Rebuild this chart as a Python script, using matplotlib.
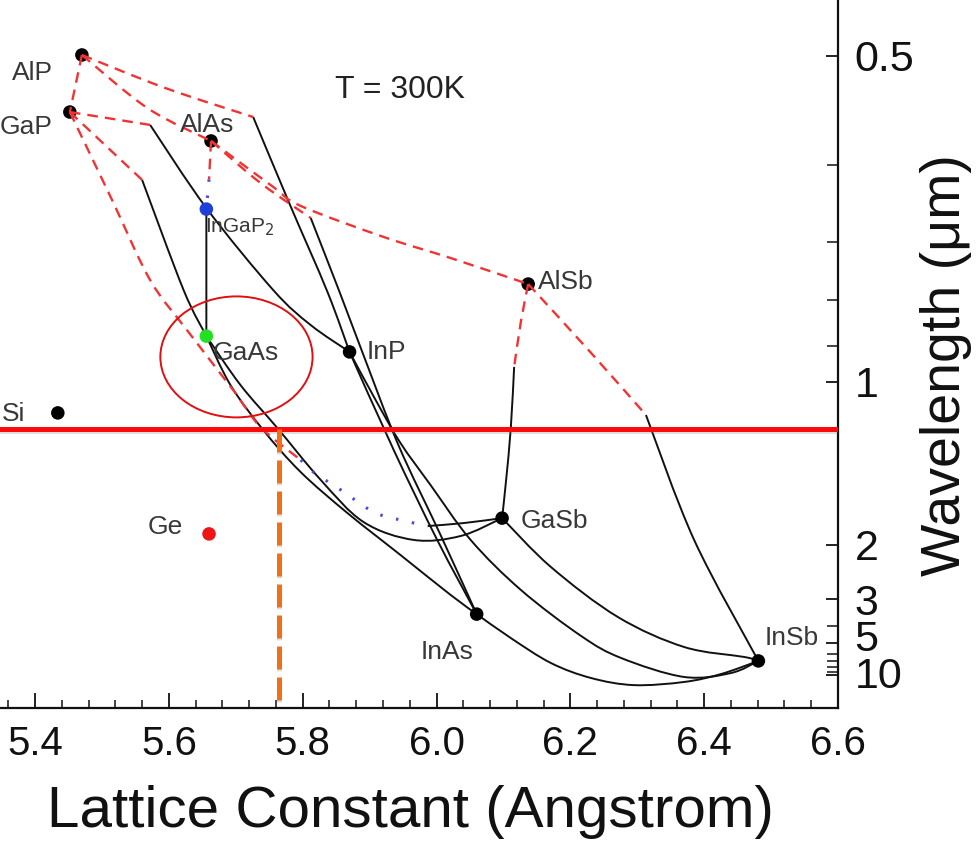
import matplotlib
matplotlib.use('Agg')
import matplotlib.pyplot as plt
from matplotlib.patches import Ellipse, PathPatch
from matplotlib.path import Path
from matplotlib.ticker import MultipleLocator, FixedLocator, FixedFormatter, NullFormatter
import matplotlib.patheffects as pe
import matplotlib.transforms as mtransforms

plt.rcParams['font.family'] = ['Liberation Sans', 'DejaVu Sans']

# ---------------- data (lattice constant in Angstrom, band gap in eV) ----------------
compounds = ['AlP', 'GaP', 'AlAs', 'InGaP2', 'GaAs', 'InP', 'AlSb', 'Si', 'Ge', 'GaSb', 'InAs', 'InSb']
lattice = [5.470, 5.452, 5.663, 5.656, 5.656, 5.870, 6.137, 5.434, 5.660, 6.098, 6.060, 6.481]
gap = [2.483, 2.266, 2.156, 1.897, 1.414, 1.354, 1.612, 1.122, 0.662, 0.722, 0.357, 0.179]
point_colors = ['black', 'black', 'black', '#1f3fd8', '#22e022', 'black', 'black',
                'black', '#ee1515', 'black', 'black', 'black']

# indirect-gap segments (red dashed)
ind_alp_gap_a = [5.470, 5.452]
ind_alp_gap_e = [2.483, 2.266]
ind_alp_alas_a = [5.470, 5.568, 5.663]
ind_alp_alas_e = [2.483, 2.281, 2.156]
ind_alp_inp_a = [5.470, 5.595, 5.726]
ind_alp_inp_e = [2.483, 2.357, 2.247]
ind_gap_inp_a = [5.452, 5.572]
ind_gap_inp_e = [2.266, 2.217]
ind_gap_gaas_a = [5.452, 5.560]
ind_gap_gaas_e = [2.266, 2.008]
ind_gap_gasb_a = [5.452, 5.515, 5.572, 5.627, 5.696, 5.737, 5.797]
ind_gap_gasb_e = [2.266, 1.932, 1.627, 1.437, 1.209, 1.068, 0.943]
ind_alas_alsb_a = [5.663, 5.756, 5.797, 5.921, 6.021, 6.137]
ind_alas_alsb_e = [2.156, 1.981, 1.909, 1.791, 1.711, 1.612]
ind_alas_inas_a = [5.663, 5.737, 5.812]
ind_alas_inas_e = [2.156, 1.996, 1.863]
ind_alas_gaas_a = [5.663, 5.660]
ind_alas_gaas_e = [2.156, 2.010]
ind_alsb_gasb_a = [6.137, 6.126, 6.116]
ind_alsb_gasb_e = [1.612, 1.468, 1.297]
ind_alsb_insb_a = [6.137, 6.231, 6.313]
ind_alsb_insb_e = [1.612, 1.350, 1.114]

# blue dotted segments
dot_gap_gasb_a = [5.797, 5.816, 5.857, 5.906, 5.946, 5.987]
dot_gap_gasb_e = [0.943, 0.897, 0.829, 0.745, 0.715, 0.692]
dot_alas_gaas_a = [5.660, 5.656]
dot_alas_gaas_e = [2.010, 1.897]

# direct-gap segments (black solid)
dir_gap_gasb_a = [5.987, 6.040, 6.098]
dir_gap_gasb_e = [0.692, 0.703, 0.722]
dir_ingap_gaas_a = [5.656, 5.656]
dir_ingap_gaas_e = [1.897, 1.414]
dir_alsb_gasb_a = [6.116, 6.111, 6.104, 6.098]
dir_alsb_gasb_e = [1.297, 1.065, 0.867, 0.722]
dir_alsb_insb_a = [6.313, 6.385, 6.481]
dir_alsb_insb_e = [1.114, 0.639, 0.179]
dir_gap_inp_a = [5.572, 5.656, 5.756, 5.812, 5.870]
dir_gap_inp_e = [2.217, 1.901, 1.589, 1.456, 1.354]
dir_gap_gaas_a = [5.560, 5.622, 5.656]
dir_gap_gaas_e = [2.008, 1.589, 1.414]
dir_alp_inp_a = [5.726, 5.781, 5.837, 5.870]
dir_alp_inp_e = [2.247, 1.913, 1.582, 1.354]
dir_alas_inas_a = [5.812, 5.854, 5.889, 5.943, 6.006, 6.060]
dir_alas_inas_e = [1.863, 1.589, 1.354, 1.000, 0.658, 0.357]
dir_inp_inas_a = [5.870, 5.936, 6.001, 6.060]
dir_inp_inas_e = [1.354, 0.981, 0.639, 0.357]
dir_gaas_inas_a = [5.656, 5.692, 5.741, 5.797, 5.867, 5.946, 6.021, 6.060]
dir_gaas_inas_e = [1.414, 1.228, 1.057, 0.897, 0.741, 0.582, 0.430, 0.357]
dir_gaas_gasb_a = [5.656, 5.707, 5.762, 5.827, 5.891, 5.966, 6.036, 6.098]
dir_gaas_gasb_e = [1.414, 1.228, 1.065, 0.867, 0.707, 0.639, 0.654, 0.722]
dir_inp_insb_a = [5.870, 5.909, 5.946, 5.991, 6.051, 6.126, 6.216, 6.276, 6.370, 6.440, 6.481]
dir_inp_insb_e = [1.354, 1.171, 1.008, 0.848, 0.639, 0.449, 0.274, 0.190, 0.118, 0.133, 0.179]
dir_inas_insb_a = [6.060, 6.111, 6.171, 6.231, 6.295, 6.370, 6.425, 6.481]
dir_inas_insb_e = [0.357, 0.266, 0.171, 0.114, 0.087, 0.099, 0.129, 0.179]
dir_gasb_insb_a = [6.098, 6.171, 6.271, 6.370, 6.460, 6.481]
dir_gasb_insb_e = [0.722, 0.536, 0.346, 0.232, 0.194, 0.179]

# reference markers
telecom_gap = 1.061          # horizontal red line (eV)
matched_lattice = 5.764      # vertical orange dashed line (Angstrom)
ellipse_center = (5.701, 1.335)
ellipse_size = (0.2275, 0.46)

# axis ticks
x_major = [5.4, 5.6, 5.8, 6.0, 6.2, 6.4, 6.6]
x_labels = ['5.4', '5.6', '5.8', '6.0', '6.2', '6.4', '6.6']
wl_major = [0.5, 1, 2, 3, 5, 10]
wl_labels = ['0.5', '1', '2', '3', '5', '10']
wl_minor = [0.6, 0.7, 0.8, 0.9, 4, 6, 7, 8, 9]
HC = 1.2398  # eV*um


def smooth_path(xs, ys):
    """Smooth (Catmull-Rom style) Bezier path passing through the given points."""
    pts = list(zip(xs, ys))
    n = len(pts)
    verts = [pts[0]]
    codes = [Path.MOVETO]
    for i in range(n - 1):
        p0 = pts[i - 1] if i > 0 else pts[i]
        p1 = pts[i]
        p2 = pts[i + 1]
        p3 = pts[i + 2] if i + 2 < n else pts[i + 1]
        c1 = (p1[0] + (p2[0] - p0[0]) / 6.0, p1[1] + (p2[1] - p0[1]) / 6.0)
        c2 = (p2[0] - (p3[0] - p1[0]) / 6.0, p2[1] - (p3[1] - p1[1]) / 6.0)
        verts += [c1, c2, p2]
        codes += [Path.CURVE4] * 3
    return Path(verts, codes)


def draw_curve(ax, xs, ys, **kw):
    ax.add_patch(PathPatch(smooth_path(xs, ys), fill=False, capstyle='butt', **kw))


# ---------------- figure ----------------
fig = plt.figure(figsize=(9.8, 8.6), dpi=100)
ax = fig.add_axes([0, 1 - 708 / 860, 838 / 980, 708 / 860])
ax.set_xlim(5.3476, 6.6)
ax.set_ylim(0, 2.692)

red_dash = dict(ec='#f03434', lw=1.7, ls=(0, (4.5, 3)), zorder=4)
blue_dot = dict(ec='#4a4ae0', lw=2.2, ls=(0, (0.8, 4.5)), zorder=4)
black = dict(ec='#111111', lw=1.4, zorder=2, joinstyle='round')

for a, e in [(ind_alp_gap_a, ind_alp_gap_e), (ind_alp_alas_a, ind_alp_alas_e),
             (ind_alp_inp_a, ind_alp_inp_e), (ind_gap_inp_a, ind_gap_inp_e),
             (ind_gap_gaas_a, ind_gap_gaas_e), (ind_gap_gasb_a, ind_gap_gasb_e),
             (ind_alas_alsb_a, ind_alas_alsb_e), (ind_alas_inas_a, ind_alas_inas_e),
             (ind_alas_gaas_a, ind_alas_gaas_e), (ind_alsb_gasb_a, ind_alsb_gasb_e),
             (ind_alsb_insb_a, ind_alsb_insb_e)]:
    draw_curve(ax, a, e, **red_dash)

for a, e in [(dot_gap_gasb_a, dot_gap_gasb_e), (dot_alas_gaas_a, dot_alas_gaas_e)]:
    draw_curve(ax, a, e, **blue_dot)

for a, e in [(dir_gap_gasb_a, dir_gap_gasb_e), (dir_ingap_gaas_a, dir_ingap_gaas_e),
             (dir_alsb_gasb_a, dir_alsb_gasb_e), (dir_alsb_insb_a, dir_alsb_insb_e),
             (dir_gap_inp_a, dir_gap_inp_e), (dir_gap_gaas_a, dir_gap_gaas_e),
             (dir_alp_inp_a, dir_alp_inp_e), (dir_alas_inas_a, dir_alas_inas_e),
             (dir_inp_inas_a, dir_inp_inas_e), (dir_gaas_inas_a, dir_gaas_inas_e),
             (dir_gaas_gasb_a, dir_gaas_gasb_e), (dir_inp_insb_a, dir_inp_insb_e),
             (dir_inas_insb_a, dir_inas_insb_e), (dir_gasb_insb_a, dir_gasb_insb_e)]:
    draw_curve(ax, a, e, **black)

ax.scatter(lattice, gap, s=95, c=point_colors, zorder=3, linewidths=0)

# labels
label_pos = {
    'AlP': (5.3656, 2.414), 'GaP': (5.3476, 2.209), 'AlAs': (5.617, 2.217),
    'InGaP2': (5.654, 1.829), 'GaAs': (5.665, 1.350), 'InP': (5.896, 1.354),
    'AlSb': (6.151, 1.620), 'Si': (5.351, 1.118), 'Ge': (5.568, 0.688),
    'GaSb': (6.125, 0.711), 'InAs': (5.976, 0.213), 'InSb': (6.490, 0.266),
}
for name in compounds:
    x, y = label_pos[name]
    txt = 'InGaP$_2$' if name == 'InGaP2' else name
    fs = 15 if name == 'InGaP2' else 19
    ax.text(x, y, txt, fontsize=fs, color='#383838', ha='left', va='center', zorder=5)

ax.text(5.849, 2.350, 'T = 300K', fontsize=23, color='#222222', ha='left', va='center')

# highlight lines
shadow = [pe.SimpleLineShadow(offset=(0.3, -1.5), shadow_color='gray', alpha=0.25), pe.Normal()]
ax.axhline(telecom_gap, color='#ff0a0a', lw=3.6, zorder=6, path_effects=shadow)
ax.plot([matched_lattice, matched_lattice], [telecom_gap, 0], color='#f07018', lw=3.6,
        ls=(0, (4.6, 1.6)), zorder=6, path_effects=shadow, clip_on=False)
ax.add_patch(Ellipse(ellipse_center, ellipse_size[0], ellipse_size[1], fill=False,
                     ec='#e01010', lw=1.4, zorder=6))

# axes styling
for side in ['left', 'top']:
    ax.spines[side].set_visible(False)
for side in ['bottom', 'right']:
    ax.spines[side].set_linewidth(1.6)
    ax.spines[side].set_color('#111111')

ax.xaxis.set_major_locator(FixedLocator(x_major))
ax.xaxis.set_major_formatter(FixedFormatter(x_labels))
ax.xaxis.set_minor_locator(MultipleLocator(0.04))
ax.tick_params(axis='x', which='major', direction='in', length=11, width=1.3,
               labelsize=29, pad=12, colors='#111111')
ax.tick_params(axis='x', which='minor', direction='in', length=6, width=1.1, colors='#111111')

ax.yaxis.tick_right()
ax.yaxis.set_major_locator(FixedLocator([HC / w for w in wl_major]))
ax.yaxis.set_major_formatter(NullFormatter())
ax.yaxis.set_minor_locator(FixedLocator([HC / w for w in wl_minor]))
ax.yaxis.set_minor_formatter(NullFormatter())
ax.tick_params(axis='y', which='major', direction='in', length=9, width=1.3, colors='#111111')
ax.tick_params(axis='y', which='minor', direction='in', length=8, width=1.1, colors='#111111')

# right-hand wavelength tick labels (slight vertical nudges as in the original)
label_nudge_pt = {'5': 5.0, '10': 2.0}
ytrans = ax.get_yaxis_transform()
for w, lab in zip(wl_major, wl_labels):
    tr = mtransforms.offset_copy(ytrans, fig=fig, x=12, y=label_nudge_pt.get(lab, 0.0),
                                 units='points')
    ax.text(1.0, HC / w, lab, transform=tr, fontsize=31, ha='left', va='center_baseline',
            color='#111111', clip_on=False)

fig.text(410 / 980, 1 - 812 / 860, 'Lattice Constant (Angstrom)', fontsize=42,
         ha='center', va='center', color='#111111')
fig.text(946 / 980, 1 - 365 / 860, 'Wavelength (\u03bcm)', fontsize=40, rotation=90,
         ha='center', va='center', color='#111111')

fig.savefig('out.png', dpi=100)
